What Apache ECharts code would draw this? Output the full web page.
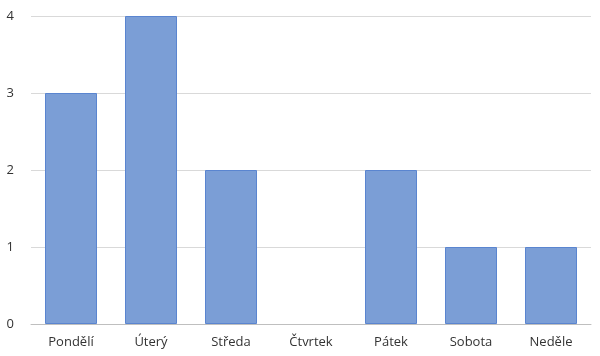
<!DOCTYPE html>
<html>
<head>
<meta charset="utf-8">
<script src="https://cdn.jsdelivr.net/npm/echarts@6/dist/echarts.min.js"></script>
<style>html,body{margin:0;padding:0;background:#fff}#c{width:600px;height:356px}</style>
</head>
<body>
<div id="c"></div>
<script>
var categories = ["Pondělí", "Úterý", "Středa", "Čtvrtek", "Pátek", "Sobota", "Neděle"];
var values = [3, 4, 2, 0, 2, 1, 1];
var yTicks = [0, 1, 2, 3, 4];

var chart = echarts.init(document.getElementById('c'), null, {renderer: 'canvas'});
chart.setOption({
  animation: false,
  backgroundColor: '#ffffff',
  grid: {left: 31, right: 9, top: 16, bottom: 32, containLabel: false},
  xAxis: {
    type: 'category',
    data: categories,
    axisLine: {lineStyle: {color: '#bfbfbf', width: 1}},
    axisTick: {show: false},
    axisLabel: {color: '#333333', fontSize: 13, fontFamily: 'Open Sans', margin: 12}
  },
  yAxis: {
    type: 'value',
    min: yTicks[0],
    max: yTicks[yTicks.length - 1],
    interval: 1,
    axisLine: {show: false},
    axisTick: {show: false},
    splitLine: {lineStyle: {color: '#d9d9d9', width: 1}},
    axisLabel: {color: '#333333', fontSize: 13, fontFamily: 'Open Sans', margin: 17}
  },
  series: [{
    type: 'bar',
    data: values.map(function (v) {
      return v === 0 ? {value: v, itemStyle: {borderWidth: 0}} : v;
    }),
    barWidth: '65%',
    z: 3,
    itemStyle: {color: '#7b9ed6', borderColor: '#5a85d0', borderWidth: 1}
  }]
});
</script>
</body>
</html>
